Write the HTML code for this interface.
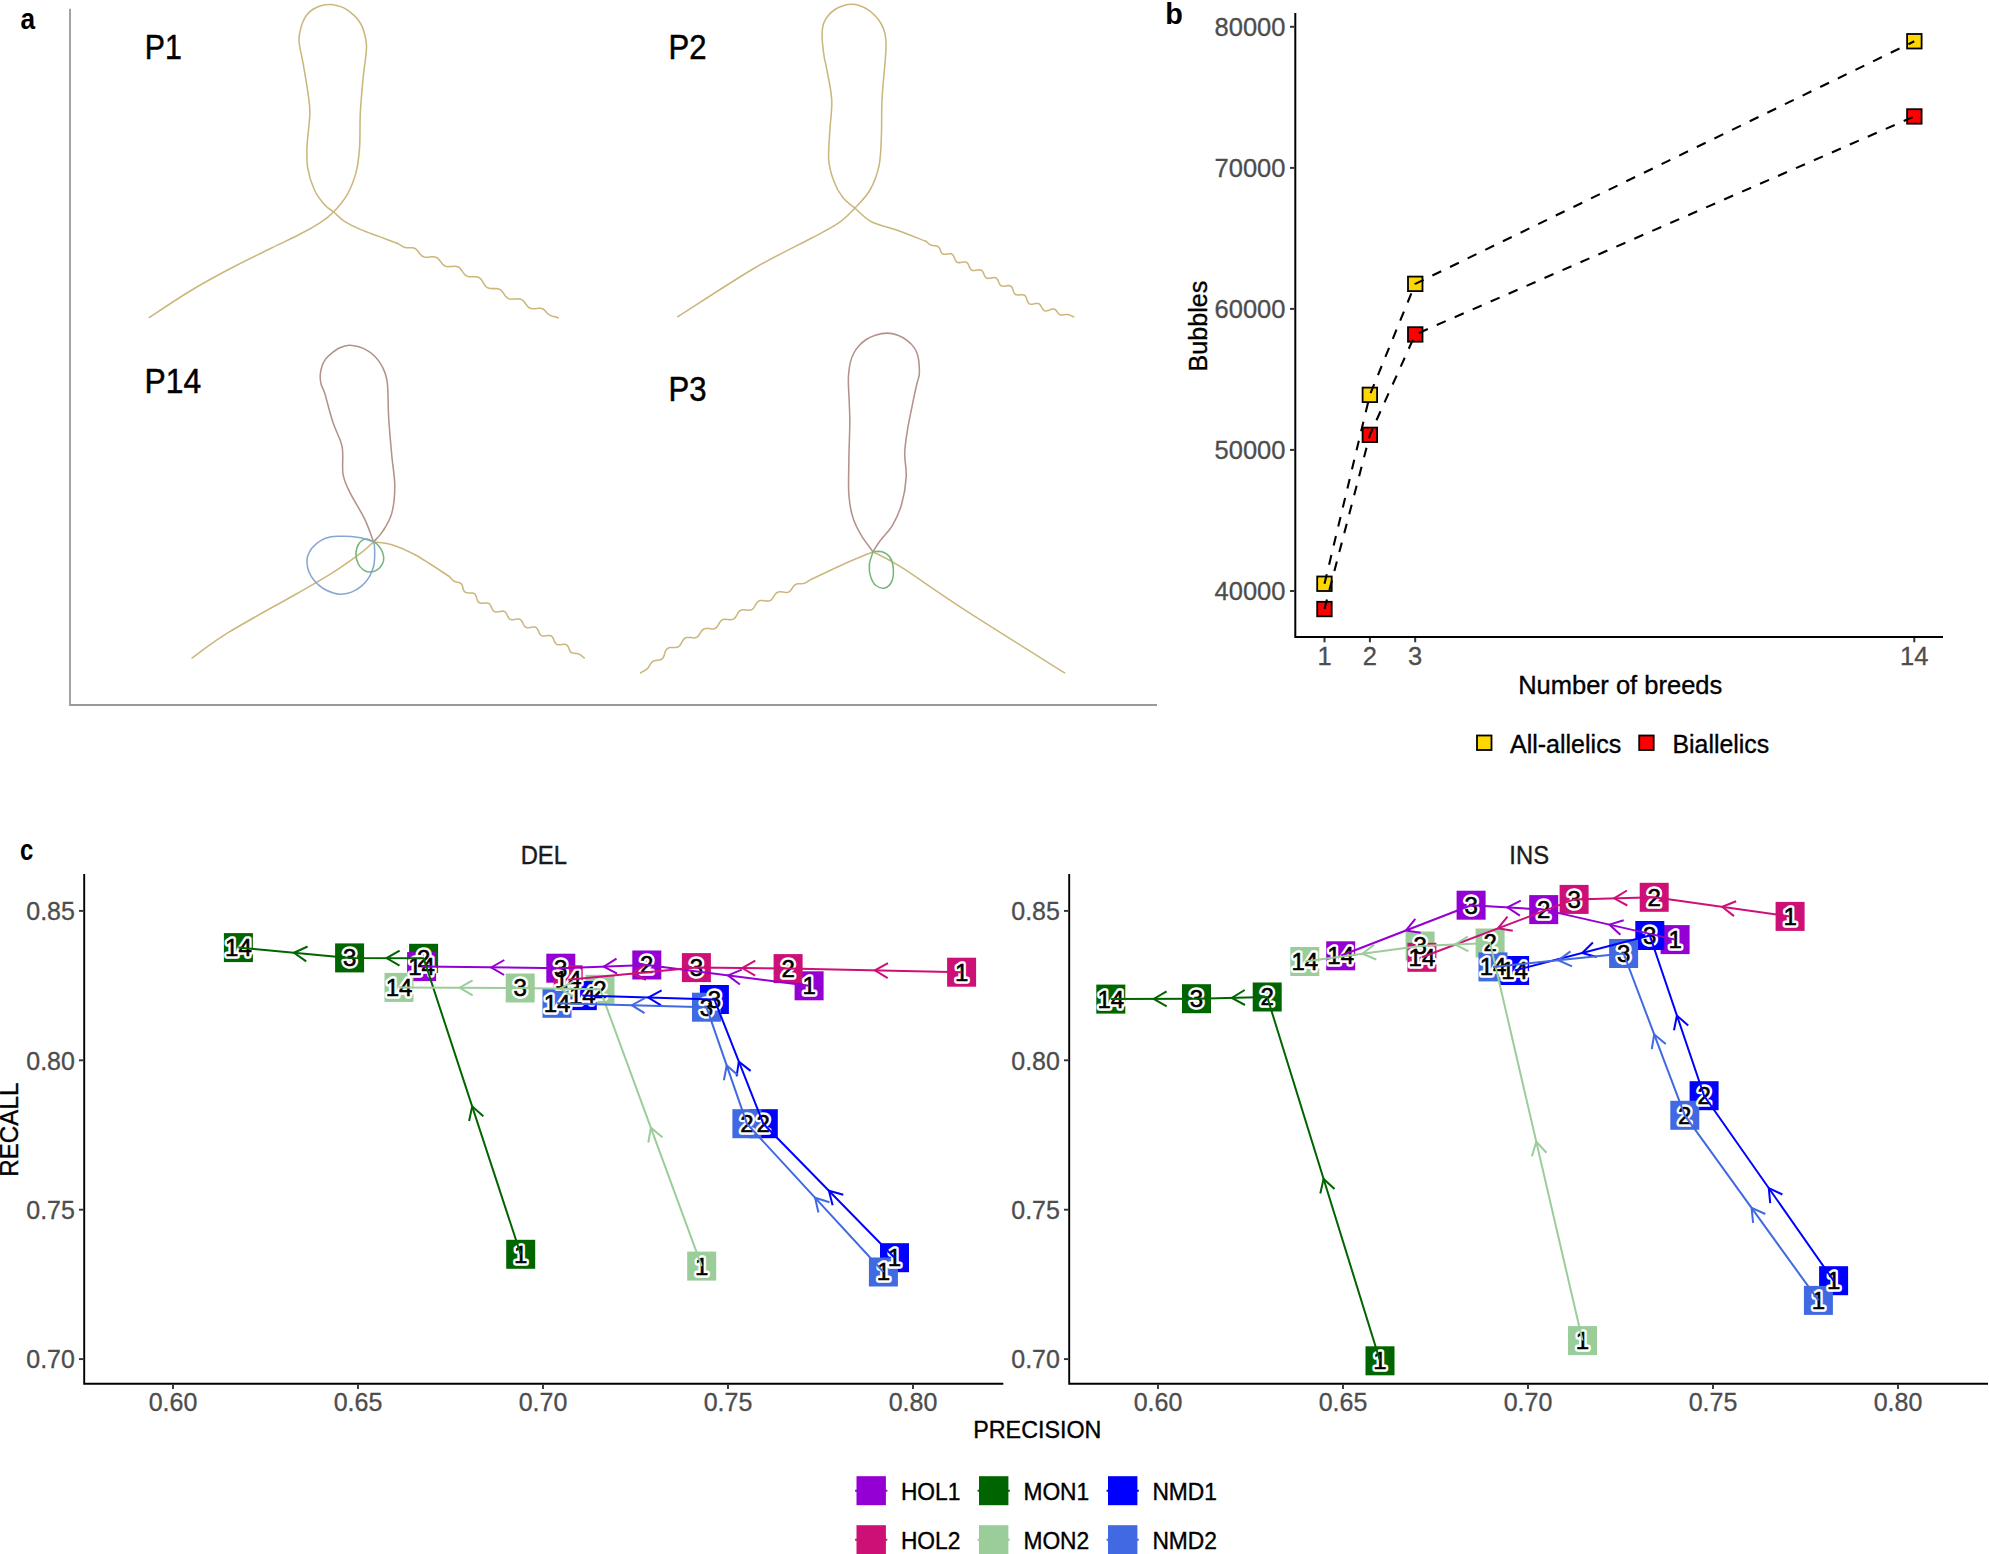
<!DOCTYPE html>
<html lang="en"><head><meta charset="utf-8"><title>Figure</title>
<style>html,body{margin:0;padding:0;background:#fff}svg{display:block}text{font-family:"Liberation Sans", "DejaVu Sans", sans-serif}</style></head><body>
<svg width="1989" height="1554" viewBox="0 0 1989 1554">
<rect width="1989" height="1554" fill="#fff"/>
<g id="panel-a" fill="none" stroke-width="1.55" stroke-linecap="round" stroke-linejoin="round">
<path d="M70 8.7V705H1157" stroke="#999" stroke-width="1.8" stroke-linecap="butt" stroke-linejoin="miter"/>
<path d="M149.3 317.4C156.4 312.8 178 298.3 191.8 290C205.6 281.7 218.5 274.8 231.9 267.8C245.3 260.8 260.5 253.5 272 247.8C283.5 242.1 292.6 238.1 300.7 233.8C308.8 229.6 315.2 225.9 320.7 222.3C326.2 218.7 329.2 216.6 333.6 212C338 207.4 343.4 201.3 347.2 194.6C351 187.9 354.1 179.8 356.2 171.9C358.3 164 358.9 156.9 359.6 147.1C360.3 137.3 359.7 124.4 360.3 113.1C360.9 101.8 362.1 89 363 79.2C363.9 69.4 365.4 60 366 54.3C366.6 48.6 366.6 48.2 366.5 45.2C366.4 42.2 365.8 39.2 365.1 36.2C364.4 33.2 363.6 29.9 362.4 27.1C361.2 24.3 359.6 21.8 357.9 19.5C356.2 17.2 354.3 15.5 352 13.6C349.7 11.7 346.7 9.4 344.3 8.1C341.9 6.8 339.9 6.3 337.5 5.7C335.1 5.1 332.6 4.5 329.8 4.5C327 4.5 323.7 4.9 320.8 5.7C317.9 6.5 315 8 312.6 9.5C310.2 11 308.2 13.1 306.7 14.9C305.2 16.7 304.5 18.4 303.6 20.4C302.7 22.4 301.9 23.7 301.1 27.1C300.3 30.5 298.7 34.7 299 40.7C299.3 46.7 301.7 55 303.1 63.3C304.5 71.6 306.5 82.2 307.6 90.5C308.7 98.8 310 104 309.9 113.1C309.8 122.1 307.5 135.8 307.1 144.8C306.7 153.9 306.4 159.9 307.6 167.4C308.8 174.9 311.6 183.8 314.4 190C317.2 196.2 321.4 201.1 324.6 204.8C327.8 208.5 330.2 209.2 333.6 212C337 214.8 340.4 218.8 344.9 221.7C349.4 224.6 355.1 227.1 360.8 229.6C366.5 232.1 372.9 234.1 378.9 236.4C384.9 238.7 394 242.1 397 243.2" stroke="#CBB77C"/>
<path d="M397 243.2L397.6 243.5L398.2 243.8L398.8 244.1L399.4 244.5L400.1 244.9L400.8 245.4L401.6 245.8L402.4 246.3L403.2 246.7L404.1 247.1L405.1 247.4L406.1 247.7L407.2 247.8L408.4 247.8L409.6 247.8L410.9 247.8L412.2 247.8L413.4 247.9L414.6 248.3L415.7 248.9L416.7 249.8L417.7 250.9L418.6 252L419.5 253.3L420.5 254.4L421.5 255.5L422.6 256.3L423.9 256.9L425.2 257.2L426.7 257.3L428.2 257.2L429.8 257L431.4 256.8L433 256.8L434.5 256.9L435.9 257.2L437.1 257.9L438.3 258.8L439.3 259.9L440.3 261.2L441.2 262.4L442.2 263.7L443.2 264.7L444.3 265.6L445.5 266.2L446.8 266.6L448.2 266.7L449.6 266.6L451.1 266.5L452.6 266.4L454 266.3L455.3 266.3L456.5 266.4L457.7 266.8L458.7 267.3L459.6 268L460.4 268.8L461.2 269.7L461.9 270.7L462.5 271.6L463.2 272.6L463.8 273.4L464.5 274.2L465.1 274.9L465.9 275.5L466.6 275.9L467.4 276.3L468.3 276.5L469.1 276.7L470 276.8L470.9 276.8L471.9 276.8L472.8 276.7L473.7 276.7L474.6 276.7L475.5 276.7L476.3 276.8L477.1 276.9L477.8 277.1L478.6 277.4L479.2 277.7L479.8 278.1L480.4 278.6L480.9 279.1L481.4 279.7L481.9 280.3L482.3 281L482.7 281.7L483.1 282.4L483.5 283.1L483.9 283.8L484.3 284.4L484.7 285.1L485.2 285.7L485.6 286.2L486.1 286.7L486.7 287.2L487.3 287.6L487.9 287.9L488.6 288.1L489.3 288.3L490 288.5L490.8 288.5L491.6 288.6L492.5 288.6L493.3 288.6L494.2 288.6L495 288.6L495.9 288.6L496.7 288.6L497.5 288.7L498.3 288.9L499.1 289.1L499.8 289.5L500.5 289.9L501.1 290.4L501.7 291L502.3 291.7L502.9 292.5L503.5 293.3L504.1 294.1L504.7 295L505.3 295.9L506 296.7L506.8 297.4L507.6 298.1L508.5 298.6L509.5 298.9L510.5 299.1L511.7 299.2L512.9 299.2L514.1 299.1L515.4 299L516.7 298.9L517.9 298.8L519.1 298.9L520.3 299.1L521.4 299.6L522.4 300.2L523.3 301L524.2 301.9L525 303L525.8 304.1L526.6 305.1L527.4 306.1L528.3 307L529.3 307.8L530.3 308.3L531.5 308.6L532.7 308.8L533.9 308.8L535.2 308.7L536.5 308.5L537.8 308.4L539 308.3L540.2 308.3L541.4 308.4L542.4 308.7L543.4 309.2L544.2 309.9L545 310.7L545.8 311.5L546.5 312.3L547.2 313.1L548 313.8L548.7 314.4L549.5 314.9L550.3 315.3L551 315.7L551.8 316L552.6 316.2L553.4 316.4L554.1 316.6L554.8 316.8L555.5 317L556.1 317.1L556.7 317.3L557.3 317.5L557.8 317.7L558.3 317.9" stroke="#CBB77C"/>
<path d="M677.8 316.7C690.5 308.7 731.6 281.6 753.8 268.5C776 255.4 797.1 245.9 811.2 238.3C825.3 230.8 831 228.2 838.3 223.2C845.6 218.2 849.6 213.6 854.9 208.1C860.2 202.6 866 197 870 190C874 183 877.1 175 879 165.9C880.9 156.8 880.9 146.8 881.4 135.7C881.9 124.6 881.4 112.2 882 99.5C882.6 86.8 884.6 69.1 885.3 59.7C886 50.3 886.1 47.5 886 43C885.9 38.5 885.5 35.9 884.7 32.6C883.9 29.4 882.5 26.2 881 23.5C879.5 20.8 877.8 18.6 875.6 16.3C873.4 14 870.5 11.5 867.9 9.7C865.3 7.9 862.5 6.6 859.8 5.7C857.1 4.8 854.4 4.3 851.6 4.3C848.8 4.3 845.8 4.8 843 5.7C840.2 6.6 837.4 7.8 834.9 9.5C832.4 11.2 830 13.5 828.1 15.8C826.2 18.1 824.6 20.5 823.6 23.5C822.6 26.5 822.1 30.3 822 33.9C821.9 37.5 822.3 41.1 822.7 45.2C823.1 49.4 823.9 55.3 824.5 58.8C825.1 62.3 825 59.6 826.2 66.4C827.4 73.2 831.1 89 831.7 99.5C832.3 110 830.4 119.6 829.9 129.7C829.4 139.8 828.1 151.3 828.7 159.9C829.4 168.5 831.4 174.7 833.8 181C836.1 187.3 839.3 193.1 842.8 197.6C846.3 202.1 850.1 204.1 854.9 208.1C859.7 212.1 864.2 217.9 871.5 221.7C878.8 225.5 889.6 227.5 898.6 230.8C907.6 234.1 921.3 239.6 925.8 241.3" stroke="#CBB77C"/>
<path d="M925.8 241.3L926.1 241.5L926.4 241.7L926.8 241.9L927.1 242.2L927.4 242.5L927.8 242.8L928.1 243.1L928.5 243.4L928.9 243.7L929.3 244.1L929.8 244.4L930.3 244.7L930.8 244.9L931.3 245.2L931.9 245.3L932.5 245.5L933.2 245.6L933.9 245.7L934.6 245.7L935.4 245.8L936.1 245.9L936.8 246L937.5 246.3L938.1 246.6L938.7 247.1L939.1 247.7L939.6 248.4L940 249.3L940.3 250.2L940.6 251.1L941 251.9L941.5 252.7L942 253.3L942.6 253.8L943.4 254.1L944.2 254.3L945.1 254.3L946.1 254.2L947.2 254L948.2 253.9L949.2 253.8L950.2 253.7L951.1 253.8L951.9 254.1L952.5 254.6L953.1 255.2L953.6 256L954 256.9L954.4 257.9L954.8 258.8L955.2 259.8L955.6 260.7L956.2 261.4L956.8 262L957.5 262.4L958.3 262.6L959.2 262.6L960.1 262.6L961.1 262.4L962.1 262.2L963.1 262.1L964 262L964.9 262L965.8 262.1L966.6 262.4L967.2 262.9L967.8 263.6L968.3 264.4L968.7 265.3L969.2 266.4L969.6 267.4L970.1 268.3L970.6 269.2L971.2 269.8L972 270.3L972.9 270.5L973.8 270.6L974.9 270.5L976 270.3L977.2 270.1L978.3 269.9L979.3 269.8L980.3 269.9L981.2 270.2L981.9 270.7L982.6 271.4L983.1 272.3L983.6 273.4L984 274.4L984.5 275.5L985 276.5L985.6 277.3L986.4 277.8L987.2 278.2L988.1 278.4L989.2 278.3L990.3 278.2L991.4 277.9L992.5 277.7L993.6 277.6L994.6 277.6L995.5 277.7L996.3 278.1L996.9 278.7L997.5 279.4L998 280.3L998.4 281.3L998.8 282.3L999.2 283.3L999.7 284.2L1000.2 284.9L1000.8 285.5L1001.5 285.9L1002.3 286.1L1003.1 286.2L1004 286.2L1005 286.1L1005.9 285.9L1006.9 285.7L1007.8 285.6L1008.6 285.6L1009.4 285.6L1010.1 285.8L1010.8 286.1L1011.3 286.6L1011.8 287.1L1012.2 287.8L1012.5 288.5L1012.8 289.3L1013.1 290.1L1013.3 290.9L1013.6 291.7L1013.9 292.4L1014.2 293L1014.5 293.6L1015 294L1015.4 294.4L1016 294.6L1016.6 294.8L1017.2 294.9L1017.9 295L1018.6 294.9L1019.4 294.9L1020.1 294.8L1020.9 294.8L1021.6 294.8L1022.3 294.8L1022.9 294.8L1023.5 294.9L1024.1 295.1L1024.6 295.4L1025 295.7L1025.4 296.1L1025.7 296.6L1026 297.2L1026.3 297.8L1026.5 298.4L1026.7 299.1L1026.9 299.8L1027.1 300.4L1027.4 301.1L1027.6 301.7L1027.9 302.3L1028.3 302.8L1028.7 303.3L1029.1 303.6L1029.6 303.9L1030.2 304.1L1030.8 304.2L1031.4 304.2L1032.1 304.2L1032.8 304.1L1033.6 303.9L1034.3 303.8L1035 303.6L1035.7 303.5L1036.4 303.4L1037.1 303.4L1037.7 303.4L1038.3 303.5L1038.8 303.7L1039.4 304.1L1039.8 304.5L1040.3 305.1L1040.7 305.7L1041.2 306.4L1041.6 307.2L1042 307.9L1042.5 308.7L1043 309.4L1043.5 309.9L1044.1 310.4L1044.8 310.7L1045.5 310.9L1046.3 310.9L1047.1 310.8L1047.9 310.6L1048.8 310.2L1049.7 309.9L1050.6 309.5L1051.4 309.2L1052.3 309L1053.1 308.9L1053.8 309L1054.5 309.2L1055.2 309.6L1055.8 310.1L1056.3 310.7L1056.9 311.4L1057.4 312.2L1058 312.9L1058.5 313.6L1059.1 314.1L1059.7 314.5L1060.3 314.8L1061 315L1061.7 315.1L1062.4 315L1063.1 314.9L1063.8 314.8L1064.5 314.7L1065.2 314.6L1065.8 314.5L1066.5 314.4L1067.1 314.4L1067.7 314.5L1068.2 314.6L1068.7 314.7L1069.3 314.9L1069.7 315L1070.2 315.2L1070.6 315.4L1071.1 315.7L1071.5 315.9L1071.9 316L1072.3 316.2L1072.6 316.4L1073 316.5L1073.3 316.6L1073.6 316.7" stroke="#CBB77C"/>
<path d="M192.1 657.9C198.2 653.6 211.7 642.8 228.9 632.2C246.1 621.6 278.2 604.3 295.3 594.5C312.4 584.7 320.4 580.4 331.5 573.4C342.6 566.4 354.7 557.5 361.7 552.3C368.7 547 371.6 543.6 373.6 541.9" stroke="#CBB77C"/>
<path d="M373.6 541.9C376.6 542.4 384.7 542.5 391.8 544.7C398.9 546.9 406.4 550 416 555.3C425.6 560.6 443.6 572.9 449.1 576.4" stroke="#CBB77C"/>
<path d="M449.1 576.4L449.4 576.6L449.7 576.9L450 577.2L450.3 577.5L450.6 577.8L450.9 578.2L451.2 578.6L451.6 579L452 579.4L452.3 579.8L452.8 580.2L453.2 580.6L453.7 581L454.3 581.3L454.9 581.6L455.5 581.8L456.3 582L457 582.2L457.8 582.3L458.6 582.5L459.3 582.7L460 583L460.7 583.4L461.3 583.9L461.8 584.5L462.2 585.2L462.5 586.1L462.7 587.1L462.9 588.1L463.2 589L463.5 589.9L463.9 590.8L464.4 591.4L465 592L465.7 592.4L466.6 592.7L467.5 592.8L468.5 592.9L469.5 592.9L470.5 592.9L471.6 592.9L472.5 593L473.4 593.2L474.1 593.6L474.8 594L475.3 594.6L475.7 595.3L476.1 596.2L476.4 597L476.6 598L476.9 598.9L477.2 599.8L477.5 600.6L477.9 601.3L478.3 601.9L478.9 602.4L479.4 602.8L480.1 603.1L480.8 603.2L481.5 603.3L482.3 603.3L483.1 603.3L483.8 603.2L484.6 603.1L485.4 603L486.1 603L486.8 603L487.5 603.1L488.1 603.2L488.6 603.4L489.1 603.7L489.6 604.1L490 604.6L490.3 605.1L490.7 605.7L491 606.3L491.3 606.9L491.6 607.6L491.9 608.3L492.2 608.9L492.5 609.5L492.9 610.1L493.2 610.6L493.7 611L494.1 611.4L494.6 611.6L495.1 611.8L495.7 612L496.3 612L496.9 612L497.6 611.9L498.3 611.8L498.9 611.7L499.6 611.5L500.3 611.4L501 611.3L501.6 611.2L502.3 611.1L502.9 611.1L503.4 611.2L504 611.3L504.5 611.6L505 611.9L505.4 612.3L505.8 612.7L506.1 613.2L506.5 613.8L506.8 614.4L507.1 615L507.4 615.6L507.7 616.2L508.1 616.8L508.4 617.4L508.7 618L509.1 618.4L509.5 618.8L510 619.2L510.5 619.4L511 619.6L511.6 619.7L512.2 619.8L512.9 619.7L513.5 619.7L514.2 619.6L514.9 619.4L515.6 619.3L516.3 619.2L516.9 619.1L517.6 619L518.2 619L518.8 619L519.3 619.1L519.8 619.3L520.3 619.5L520.7 619.9L521.1 620.2L521.5 620.7L521.9 621.2L522.2 621.7L522.5 622.3L522.8 622.9L523.1 623.5L523.3 624.1L523.6 624.7L523.9 625.2L524.3 625.8L524.6 626.2L525 626.7L525.4 627L525.9 627.3L526.4 627.5L526.9 627.7L527.5 627.7L528.1 627.7L528.7 627.7L529.4 627.6L530.1 627.5L530.8 627.4L531.5 627.2L532.2 627.1L532.9 627L533.5 627L534.2 627L534.8 627.1L535.4 627.3L535.9 627.5L536.4 627.9L536.8 628.3L537.3 628.8L537.6 629.4L538 630.1L538.3 630.8L538.6 631.5L539 632.2L539.3 633L539.7 633.7L540.1 634.3L540.5 634.8L541.1 635.3L541.6 635.6L542.3 635.9L543 636L543.9 636L544.8 635.9L545.7 635.8L546.7 635.7L547.7 635.5L548.7 635.5L549.6 635.5L550.5 635.7L551.3 636L552 636.6L552.6 637.3L553.1 638.2L553.6 639.2L554 640.3L554.5 641.3L554.9 642.3L555.5 643.2L556.2 643.9L557 644.4L557.9 644.7L558.9 644.8L560.1 644.7L561.2 644.6L562.4 644.4L563.6 644.3L564.7 644.3L565.6 644.5L566.5 644.9L567.2 645.5L567.9 646.2L568.4 647.2L568.8 648.2L569.2 649.3L569.7 650.3L570.1 651.2L570.7 652L571.4 652.5L572.2 652.9L573 653.1L573.9 653.2L574.8 653.3L575.7 653.4L576.5 653.4L577.3 653.5L578.1 653.7L578.8 653.9L579.4 654.2L580 654.6L580.5 654.9L581 655.3L581.5 655.7L582 656.1L582.4 656.5L582.8 656.8L583.2 657.2L583.6 657.4L583.9 657.7L584.3 657.9" stroke="#CBB77C"/>
<path d="M373.6 541.9C372.1 538.1 368.7 527.4 364.7 519.1C360.7 510.8 353.2 499.4 349.6 491.9C346 484.3 344.2 481.3 343 473.8C341.8 466.3 343.8 455.2 342.1 446.7C340.4 438.2 335.9 431.4 333 422.6C330.1 413.8 326.8 400.1 324.9 393.8C322.9 387.5 322.1 387.8 321.3 384.8C320.5 381.8 320.1 378.7 320.2 375.7C320.3 372.7 320.9 369.4 321.8 366.7C322.7 364 323.8 361.7 325.4 359.4C327 357.1 329.3 355.1 331.7 353.1C334.1 351.2 336.9 349 339.9 347.7C342.8 346.4 346.2 345.3 349.4 345.2C352.6 345.1 355.8 345.9 358.9 346.8C362 347.7 365.2 349.2 367.9 350.8C370.6 352.4 373 354.4 375.2 356.7C377.4 359 379.4 361.8 381 364.4C382.6 367 383.7 369.5 384.7 372.1C385.7 374.7 386.4 377.3 386.9 380.2C387.4 383.1 387.5 382.8 387.8 389.3C388.1 395.9 388.1 408.4 388.8 419.5C389.5 430.6 390.8 444.6 391.8 455.7C392.8 466.8 394.8 476.3 394.8 485.9C394.8 495.5 393.8 505.6 391.8 513.1C389.8 520.7 385.8 526.4 382.8 531.2C379.8 536 375.1 540.1 373.6 541.9" stroke="#B3928A"/>
<path d="M373.6 541.9C372.4 541.4 368.8 538.9 366.4 539.1C364 539.3 360.9 540.8 359.2 543.2C357.4 545.6 356.1 550.1 355.9 553.5C355.7 556.9 357 561.1 358.2 563.8C359.4 566.5 361.4 568.5 363.3 569.9C365.2 571.3 367.2 572 369.5 572C371.8 572 375.1 571.3 377.2 569.9C379.3 568.5 381.3 565.9 382.4 563.8C383.5 561.7 383.9 559.4 383.7 557.1C383.5 554.8 382.5 552 381.4 549.9C380.3 547.8 378.5 545.5 377.2 544.2C375.9 542.9 374.2 542.3 373.6 541.9" stroke="#74B77A"/>
<path d="M373.6 541.9C371.6 541.2 365.5 538.9 361.8 538C358.1 537.1 354.9 536.7 351.5 536.4C348.1 536.1 344.6 536.2 341.2 536.2C337.8 536.2 334.3 536 330.9 536.7C327.5 537.4 323.8 538.7 320.6 540.6C317.4 542.5 314 545.7 311.8 548.3C309.6 550.9 308.5 553.6 307.7 556C306.9 558.4 306.8 560.1 307 562.7C307.2 565.3 307.6 568.5 308.8 571.5C310 574.5 312 578 314.4 580.8C316.8 583.6 320 586.5 323.2 588.5C326.4 590.5 330.5 592.1 333.5 593.1C336.5 594.1 338.2 594.4 341.2 594.2C344.2 594 348.1 593.5 351.5 592.1C354.9 590.7 358.8 588.5 361.8 585.9C364.8 583.3 367.5 579.9 369.5 576.6C371.5 573.3 372.7 569.7 373.6 566.3C374.5 562.9 374.6 559.4 374.7 556C374.8 552.6 374.6 548.1 374.4 545.7C374.2 543.4 373.7 542.5 373.6 541.9" stroke="#88A6CF"/>
<path d="M640.7 672.9L640.8 672.8L641 672.7L641.1 672.6L641.2 672.5L641.4 672.4L641.5 672.3L641.7 672.2L641.9 672.1L642.1 672L642.2 671.9L642.4 671.8L642.6 671.6L642.8 671.5L643.1 671.4L643.3 671.3L643.5 671.2L643.7 671L644 670.9L644.2 670.8L644.4 670.7L644.7 670.5L644.9 670.4L645.2 670.2L645.4 670.1L645.7 669.9L645.9 669.8L646.2 669.6L646.4 669.4L646.7 669.2L646.9 669L647.2 668.8L647.4 668.6L647.6 668.3L647.9 668.1L648.1 667.8L648.3 667.5L648.5 667.2L648.7 667L648.9 666.6L649.1 666.3L649.3 666L649.5 665.7L649.7 665.4L649.9 665L650.1 664.7L650.3 664.4L650.5 664L650.7 663.7L650.9 663.4L651.1 663.1L651.4 662.8L651.6 662.5L651.9 662.2L652.2 662L652.4 661.7L652.7 661.5L653.1 661.3L653.4 661.2L653.8 661L654.1 660.9L654.5 660.8L654.9 660.7L655.3 660.6L655.7 660.5L656.1 660.5L656.6 660.4L657 660.4L657.5 660.3L657.9 660.3L658.3 660.2L658.8 660.1L659.2 660L659.6 659.9L660 659.8L660.4 659.7L660.8 659.5L661.1 659.4L661.5 659.2L661.8 659L662.1 658.7L662.4 658.5L662.7 658.2L662.9 657.9L663.2 657.6L663.4 657.2L663.6 656.8L663.8 656.4L663.9 656L664.1 655.6L664.2 655.1L664.4 654.6L664.5 654.2L664.7 653.7L664.8 653.2L664.9 652.6L665.1 652.1L665.3 651.6L665.5 651.2L665.7 650.7L666 650.2L666.2 649.8L666.5 649.4L666.9 649L667.3 648.7L667.7 648.4L668.1 648.1L668.6 647.9L669.2 647.7L669.7 647.6L670.3 647.5L670.9 647.4L671.6 647.4L672.3 647.4L672.9 647.4L673.6 647.4L674.3 647.4L675 647.4L675.7 647.4L676.4 647.3L677 647.2L677.6 647L678.2 646.8L678.8 646.4L679.3 646L679.8 645.5L680.2 644.9L680.7 644.3L681.1 643.6L681.5 642.8L681.9 642L682.4 641.2L682.8 640.5L683.3 639.7L683.9 639.1L684.5 638.5L685.1 638.1L685.8 637.7L686.6 637.5L687.5 637.4L688.4 637.4L689.3 637.4L690.3 637.5L691.3 637.6L692.3 637.8L693.3 637.9L694.3 637.9L695.2 637.8L696 637.5L696.8 637.2L697.5 636.7L698.2 636.1L698.8 635.3L699.4 634.5L699.9 633.6L700.5 632.7L701 631.8L701.6 631L702.2 630.2L702.9 629.6L703.6 629.1L704.4 628.7L705.3 628.5L706.2 628.4L707.2 628.4L708.2 628.5L709.3 628.6L710.3 628.8L711.3 628.9L712.3 629L713.3 628.9L714.2 628.7L715 628.5L715.7 628L716.4 627.5L717 626.8L717.6 626L718.1 625.2L718.6 624.4L719.1 623.5L719.6 622.7L720.1 621.9L720.6 621.2L721.2 620.6L721.9 620.1L722.6 619.7L723.4 619.5L724.2 619.3L725.1 619.3L726 619.3L726.9 619.4L727.9 619.5L728.8 619.6L729.8 619.7L730.7 619.7L731.5 619.6L732.4 619.5L733.1 619.2L733.8 618.8L734.5 618.4L735 617.8L735.6 617.1L736.1 616.3L736.5 615.5L737 614.7L737.5 613.8L737.9 613L738.4 612.3L739 611.6L739.6 611L740.2 610.6L740.9 610.2L741.7 610L742.5 609.8L743.4 609.8L744.3 609.8L745.3 609.9L746.2 610L747.2 610.1L748.1 610.2L749 610.2L749.9 610.1L750.7 610L751.5 609.7L752.2 609.3L752.8 608.8L753.4 608.2L754 607.5L754.5 606.7L755 605.8L755.4 605L755.9 604.1L756.5 603.3L757 602.6L757.6 601.9L758.3 601.4L759 601L759.8 600.7L760.7 600.6L761.6 600.5L762.5 600.5L763.5 600.7L764.6 600.8L765.6 601L766.7 601.1L767.7 601.1L768.7 601L769.6 600.8L770.5 600.4L771.3 599.8L772 599L772.7 598.2L773.3 597.2L773.9 596.2L774.6 595.2L775.2 594.2L776 593.4L776.8 592.7L777.7 592.2L778.7 591.9L779.8 591.8L780.9 591.8L782.1 592L783.3 592.1L784.6 592.3L785.7 592.4L786.9 592.4L787.9 592.3L788.9 591.9L789.7 591.4L790.5 590.6L791.2 589.8L791.9 588.8L792.5 587.8L793.1 586.8L793.8 586L794.5 585.2L795.3 584.7L796.1 584.3L797 584L797.9 583.8L798.9 583.8L799.8 583.7L800.7 583.7L801.6 583.7L802.5 583.6L803.3 583.4L804.1 583.2L804.8 583L805.5 582.7L806.2 582.4L806.8 582L807.3 581.7L807.9 581.3L808.4 581L808.9 580.7L809.4 580.4L809.9 580.1L810.4 579.8L810.8 579.6L811.2 579.4" stroke="#CBB77C"/>
<path d="M811.2 579.4C816.8 576.8 834.7 568.1 845 563.5C855.3 558.9 868.3 553.7 873 551.7" stroke="#CBB77C"/>
<path d="M873 551.7C877.8 554.3 886.9 558 901.7 567.4C916.5 576.8 934.9 590.5 962 608.1C989.1 625.7 1047.5 662.1 1064.6 672.9" stroke="#CBB77C"/>
<path d="M873 551.7C871.2 549.3 865.7 542.6 862.4 537.2C859.1 531.8 855.6 526.1 853.4 519.1C851.1 512.1 849.6 505.1 848.9 495C848.1 484.9 848.8 471.4 848.9 458.8C849 446.2 849.9 432 849.8 419.5C849.7 407 848.6 391.6 848.4 383.8C848.2 376 848.5 376.1 848.8 372.5C849.1 368.9 849.6 365.3 850.4 362.1C851.2 358.9 852.2 356.2 853.6 353.5C855 350.8 856.9 348.1 859 345.8C861.1 343.5 863.5 341.3 866.2 339.5C868.9 337.7 871.8 336.3 875.3 335.2C878.8 334.1 883.3 333.1 887.1 333.1C890.9 333.1 894.6 334 897.9 335.2C901.2 336.4 904.3 338.3 907 340.4C909.7 342.5 912.4 345 914.2 347.6C916 350.2 917 352.8 917.8 355.8C918.6 358.8 919 362.5 919.2 365.7C919.4 368.9 919.6 371.8 919.2 374.8C918.8 377.8 917.8 379.9 916.9 383.8C916 387.7 915.2 390.9 913.7 398.4C912.2 405.9 909.2 419.6 907.7 428.6C906.2 437.7 905 444.6 904.7 452.7C904.5 460.8 906.7 468.3 906.2 476.9C905.7 485.4 904 496 901.7 504C899.4 512 896.1 519.1 892.6 525.1C889.1 531.1 883.8 535.8 880.5 540.2C877.2 544.6 874.2 549.8 873 551.7" stroke="#B3928A"/>
<path d="M873 551.7C872.4 553.8 869.8 560.2 869.4 564.3C869 568.4 869.5 572.9 870.6 576.4C871.7 579.9 873.6 583.6 876 585.5C878.4 587.4 882.4 588.7 885.1 587.9C887.8 587.1 890.6 584.3 892 580.9C893.4 577.5 893.6 571.4 893.2 567.4C892.8 563.4 891.5 559.4 889.6 556.8C887.8 554.2 884.9 552.6 882.1 551.7C879.3 550.9 874.5 551.7 873 551.7" stroke="#74B77A"/>
</g>
<text x="144.8" y="58.8" font-size="34.5" fill="#000" stroke="#000" stroke-width="0.5" textLength="37" lengthAdjust="spacingAndGlyphs">P1</text>
<text x="668.5" y="58.8" font-size="34.5" fill="#000" stroke="#000" stroke-width="0.5" textLength="38" lengthAdjust="spacingAndGlyphs">P2</text>
<text x="144.5" y="393.3" font-size="34.5" fill="#000" stroke="#000" stroke-width="0.5" textLength="56.6" lengthAdjust="spacingAndGlyphs">P14</text>
<text x="668.5" y="400.8" font-size="34.5" fill="#000" stroke="#000" stroke-width="0.5" textLength="38" lengthAdjust="spacingAndGlyphs">P3</text>
<text transform="translate(20.4 28.9) scale(0.875 1)" font-size="30" font-weight="bold" fill="#000">a</text>
<text transform="translate(1165.2 23.7) scale(0.96 1)" font-size="30" font-weight="bold" fill="#000">b</text>
<text transform="translate(19.9 859.7) scale(0.8 1)" font-size="30" font-weight="bold" fill="#000">c</text>
<g id="panel-b">
<path d="M1295.3 13V637H1943" fill="none" stroke="#000" stroke-width="2" stroke-linejoin="miter"/>
<path d="M1294.3 591h-4.3" stroke="#333" stroke-width="2"/>
<text x="1285.5" y="600.4" font-size="25.5" fill="#4d4d4d" text-anchor="end" stroke="#4d4d4d" stroke-width="0.3">40000</text>
<path d="M1294.3 449.9h-4.3" stroke="#333" stroke-width="2"/>
<text x="1285.5" y="459.3" font-size="25.5" fill="#4d4d4d" text-anchor="end" stroke="#4d4d4d" stroke-width="0.3">50000</text>
<path d="M1294.3 308.9h-4.3" stroke="#333" stroke-width="2"/>
<text x="1285.5" y="318.3" font-size="25.5" fill="#4d4d4d" text-anchor="end" stroke="#4d4d4d" stroke-width="0.3">60000</text>
<path d="M1294.3 167.9h-4.3" stroke="#333" stroke-width="2"/>
<text x="1285.5" y="177.3" font-size="25.5" fill="#4d4d4d" text-anchor="end" stroke="#4d4d4d" stroke-width="0.3">70000</text>
<path d="M1294.3 26.8h-4.3" stroke="#333" stroke-width="2"/>
<text x="1285.5" y="36.2" font-size="25.5" fill="#4d4d4d" text-anchor="end" stroke="#4d4d4d" stroke-width="0.3">80000</text>
<path d="M1324.5 638v4.3" stroke="#333" stroke-width="2"/>
<text x="1324.5" y="665.2" font-size="25.5" fill="#4d4d4d" text-anchor="middle" stroke="#4d4d4d" stroke-width="0.3">1</text>
<path d="M1369.9 638v4.3" stroke="#333" stroke-width="2"/>
<text x="1369.9" y="665.2" font-size="25.5" fill="#4d4d4d" text-anchor="middle" stroke="#4d4d4d" stroke-width="0.3">2</text>
<path d="M1415.2 638v4.3" stroke="#333" stroke-width="2"/>
<text x="1415.2" y="665.2" font-size="25.5" fill="#4d4d4d" text-anchor="middle" stroke="#4d4d4d" stroke-width="0.3">3</text>
<path d="M1914.3 638v4.3" stroke="#333" stroke-width="2"/>
<text x="1914.3" y="665.2" font-size="25.5" fill="#4d4d4d" text-anchor="middle" stroke="#4d4d4d" stroke-width="0.3">14</text>
<text x="1620.2" y="694" font-size="25.5" fill="#000" text-anchor="middle" stroke="#000" stroke-width="0.35">Number of breeds</text>
<text transform="translate(1206.5 326.1) rotate(-90)" font-size="25.1" fill="#000" text-anchor="middle" stroke="#000" stroke-width="0.35">Bubbles</text>
<rect x="1317.2" y="576.5" width="14.5" height="14.5" fill="#FFD700" stroke="#000" stroke-width="1.8"/>
<rect x="1362.6" y="387.6" width="14.5" height="14.5" fill="#FFD700" stroke="#000" stroke-width="1.8"/>
<rect x="1408" y="276.6" width="14.5" height="14.5" fill="#FFD700" stroke="#000" stroke-width="1.8"/>
<rect x="1907.1" y="34" width="14.5" height="14.5" fill="#FFD700" stroke="#000" stroke-width="1.8"/>
<rect x="1317.2" y="601.8" width="14.5" height="14.5" fill="#FF0000" stroke="#000" stroke-width="1.8"/>
<rect x="1362.6" y="427.6" width="14.5" height="14.5" fill="#FF0000" stroke="#000" stroke-width="1.8"/>
<rect x="1408" y="327.2" width="14.5" height="14.5" fill="#FF0000" stroke="#000" stroke-width="1.8"/>
<rect x="1907.1" y="109.2" width="14.5" height="14.5" fill="#FF0000" stroke="#000" stroke-width="1.8"/>
<path d="M1324.5 583.7L1369.9 394.8L1415.2 283.9L1914.3 41.3" fill="none" stroke="#000" stroke-width="2.1" stroke-dasharray="9.8 9.8"/>
<path d="M1324.5 609L1369.9 434.8L1415.2 334.5L1914.3 116.4" fill="none" stroke="#000" stroke-width="2.1" stroke-dasharray="9.8 9.8"/>
<rect x="1477" y="735.5" width="14.5" height="14.5" fill="#FFD700" stroke="#000" stroke-width="1.8"/>
<text x="1510" y="752.5" font-size="25" fill="#000" stroke="#000" stroke-width="0.35">All-allelics</text>
<rect x="1639.2" y="735.5" width="14.5" height="14.5" fill="#FF0000" stroke="#000" stroke-width="1.8"/>
<text x="1672.5" y="752.5" font-size="24.85" fill="#000" stroke="#000" stroke-width="0.35">Biallelics</text>
</g>
<g id="panel-c">
<path d="M84.2 874V1383.8H1003.3" fill="none" stroke="#000" stroke-width="1.9"/>
<path d="M83.3 910.9h-4.3" stroke="#333" stroke-width="1.9"/>
<text transform="translate(74.9 920.1) scale(1 1.03)" font-size="25.0" fill="#4d4d4d" text-anchor="end" stroke="#4d4d4d" stroke-width="0.3">0.85</text>
<path d="M83.3 1060.3h-4.3" stroke="#333" stroke-width="1.9"/>
<text transform="translate(74.9 1069.5) scale(1 1.03)" font-size="25.0" fill="#4d4d4d" text-anchor="end" stroke="#4d4d4d" stroke-width="0.3">0.80</text>
<path d="M83.3 1209.7h-4.3" stroke="#333" stroke-width="1.9"/>
<text transform="translate(74.9 1218.9) scale(1 1.03)" font-size="25.0" fill="#4d4d4d" text-anchor="end" stroke="#4d4d4d" stroke-width="0.3">0.75</text>
<path d="M83.3 1359.1h-4.3" stroke="#333" stroke-width="1.9"/>
<text transform="translate(74.9 1368.3) scale(1 1.03)" font-size="25.0" fill="#4d4d4d" text-anchor="end" stroke="#4d4d4d" stroke-width="0.3">0.70</text>
<path d="M173 1384.7v4.3" stroke="#333" stroke-width="1.9"/>
<text transform="translate(173 1410.6) scale(1 1.03)" font-size="25.0" fill="#4d4d4d" text-anchor="middle" stroke="#4d4d4d" stroke-width="0.3">0.60</text>
<path d="M358 1384.7v4.3" stroke="#333" stroke-width="1.9"/>
<text transform="translate(358 1410.6) scale(1 1.03)" font-size="25.0" fill="#4d4d4d" text-anchor="middle" stroke="#4d4d4d" stroke-width="0.3">0.65</text>
<path d="M543 1384.7v4.3" stroke="#333" stroke-width="1.9"/>
<text transform="translate(543 1410.6) scale(1 1.03)" font-size="25.0" fill="#4d4d4d" text-anchor="middle" stroke="#4d4d4d" stroke-width="0.3">0.70</text>
<path d="M728 1384.7v4.3" stroke="#333" stroke-width="1.9"/>
<text transform="translate(728 1410.6) scale(1 1.03)" font-size="25.0" fill="#4d4d4d" text-anchor="middle" stroke="#4d4d4d" stroke-width="0.3">0.75</text>
<path d="M913 1384.7v4.3" stroke="#333" stroke-width="1.9"/>
<text transform="translate(913 1410.6) scale(1 1.03)" font-size="25.0" fill="#4d4d4d" text-anchor="middle" stroke="#4d4d4d" stroke-width="0.3">0.80</text>
<rect x="794.6" y="971.3" width="29.0" height="29.0" fill="#9400D3"/>
<rect x="947.1" y="957.7" width="29.0" height="29.0" fill="#CD1076"/>
<rect x="506.2" y="1239.8" width="29.0" height="29.0" fill="#006400"/>
<rect x="687.2" y="1251.6" width="29.0" height="29.0" fill="#9BCD9B"/>
<rect x="880" y="1243.2" width="29.0" height="29.0" fill="#0000FF"/>
<rect x="868.9" y="1257.5" width="29.0" height="29.0" fill="#4169E1"/>
<rect x="632.3" y="950.5" width="29.0" height="29.0" fill="#9400D3"/>
<rect x="773.6" y="954.1" width="29.0" height="29.0" fill="#CD1076"/>
<rect x="409.1" y="943.8" width="29.0" height="29.0" fill="#006400"/>
<rect x="585.5" y="974.8" width="29.0" height="29.0" fill="#9BCD9B"/>
<rect x="748.8" y="1109.2" width="29.0" height="29.0" fill="#0000FF"/>
<rect x="732.4" y="1109.2" width="29.0" height="29.0" fill="#4169E1"/>
<rect x="546.3" y="953.7" width="29.0" height="29.0" fill="#9400D3"/>
<rect x="681.9" y="953.1" width="29.0" height="29.0" fill="#CD1076"/>
<rect x="335.1" y="943.4" width="29.0" height="29.0" fill="#006400"/>
<rect x="505.7" y="973.5" width="29.0" height="29.0" fill="#9BCD9B"/>
<rect x="699.9" y="985" width="29.0" height="29.0" fill="#0000FF"/>
<rect x="692" y="992.7" width="29.0" height="29.0" fill="#4169E1"/>
<rect x="407.1" y="952.1" width="29.0" height="29.0" fill="#9400D3"/>
<rect x="553.7" y="965.3" width="29.0" height="29.0" fill="#CD1076"/>
<rect x="223.9" y="933.1" width="29.0" height="29.0" fill="#006400"/>
<rect x="384.5" y="972.9" width="29.0" height="29.0" fill="#9BCD9B"/>
<rect x="567.8" y="981.1" width="29.0" height="29.0" fill="#0000FF"/>
<rect x="542.5" y="988.8" width="29.0" height="29.0" fill="#4169E1"/>
<g font-size="24.0" text-anchor="middle" fill="#fff" stroke="#fff" stroke-width="5.4" stroke-linejoin="round">
<text x="809.1" y="994.2">1</text>
<text x="961.6" y="980.6">1</text>
<text x="520.7" y="1262.7">1</text>
<text x="701.7" y="1274.5">1</text>
<text x="894.5" y="1266.1">1</text>
<text x="883.4" y="1280.4">1</text>
<text x="646.8" y="973.4">2</text>
<text x="788.1" y="977">2</text>
<text x="423.6" y="966.7">2</text>
<text x="600" y="997.7">2</text>
<text x="763.3" y="1132.1">2</text>
<text x="746.9" y="1132.1">2</text>
<text x="560.8" y="976.6">3</text>
<text x="696.4" y="976">3</text>
<text x="349.6" y="966.3">3</text>
<text x="520.2" y="996.4">3</text>
<text x="714.4" y="1007.9">3</text>
<text x="706.5" y="1015.6">3</text>
<text x="421.6" y="975">14</text>
<text x="568.2" y="988.2">14</text>
<text x="238.4" y="956">14</text>
<text x="399" y="995.8">14</text>
<text x="582.3" y="1004">14</text>
<text x="557" y="1011.7">14</text>
</g>
<g font-size="24.0" text-anchor="middle" fill="#000" stroke="#000" stroke-width="0.6">
<text x="809.1" y="994.2">1</text>
<text x="961.6" y="980.6">1</text>
<text x="520.7" y="1262.7">1</text>
<text x="701.7" y="1274.5">1</text>
<text x="894.5" y="1266.1">1</text>
<text x="883.4" y="1280.4">1</text>
<text x="646.8" y="973.4">2</text>
<text x="788.1" y="977">2</text>
<text x="423.6" y="966.7">2</text>
<text x="600" y="997.7">2</text>
<text x="763.3" y="1132.1">2</text>
<text x="746.9" y="1132.1">2</text>
<text x="560.8" y="976.6">3</text>
<text x="696.4" y="976">3</text>
<text x="349.6" y="966.3">3</text>
<text x="520.2" y="996.4">3</text>
<text x="714.4" y="1007.9">3</text>
<text x="706.5" y="1015.6">3</text>
<text x="421.6" y="975">14</text>
<text x="568.2" y="988.2">14</text>
<text x="238.4" y="956">14</text>
<text x="399" y="995.8">14</text>
<text x="582.3" y="1004">14</text>
<text x="557" y="1011.7">14</text>
</g>
<path d="M809.1 985.8L646.8 965L560.8 968.2L421.6 966.6" fill="none" stroke="#9400D3" stroke-width="2" stroke-linejoin="round"/>
<path d="M739.9 984.5L728 975.4L741.8 969.6" fill="none" stroke="#9400D3" stroke-width="2" stroke-linejoin="miter" stroke-linecap="butt"/>
<path d="M617.1 973.6L603.8 966.6L616.5 958.6" fill="none" stroke="#9400D3" stroke-width="2" stroke-linejoin="miter" stroke-linecap="butt"/>
<path d="M504.1 975L491.2 967.4L504.3 960" fill="none" stroke="#9400D3" stroke-width="2" stroke-linejoin="miter" stroke-linecap="butt"/>
<path d="M961.6 972.2L788.1 968.6L696.4 967.6L568.2 979.8" fill="none" stroke="#CD1076" stroke-width="2" stroke-linejoin="round"/>
<path d="M887.7 978.2L874.9 970.4L888 963.2" fill="none" stroke="#CD1076" stroke-width="2" stroke-linejoin="miter" stroke-linecap="butt"/>
<path d="M755.2 975.7L742.2 968.1L755.3 960.7" fill="none" stroke="#CD1076" stroke-width="2" stroke-linejoin="miter" stroke-linecap="butt"/>
<path d="M645.9 979.9L632.3 973.7L644.5 965" fill="none" stroke="#CD1076" stroke-width="2" stroke-linejoin="miter" stroke-linecap="butt"/>
<path d="M520.7 1254.3L423.6 958.3L349.6 957.9L238.4 947.6" fill="none" stroke="#006400" stroke-width="2" stroke-linejoin="round"/>
<path d="M469.1 1121L472.2 1106.3L483.3 1116.3" fill="none" stroke="#006400" stroke-width="2" stroke-linejoin="miter" stroke-linecap="butt"/>
<path d="M399.5 965.7L386.6 958.1L399.6 950.7" fill="none" stroke="#006400" stroke-width="2" stroke-linejoin="miter" stroke-linecap="butt"/>
<path d="M306.2 961.4L294 952.8L307.6 946.5" fill="none" stroke="#006400" stroke-width="2" stroke-linejoin="miter" stroke-linecap="butt"/>
<path d="M701.7 1266.1L600 989.3L520.2 988L399 987.4" fill="none" stroke="#9BCD9B" stroke-width="2" stroke-linejoin="round"/>
<path d="M648.3 1142.5L650.9 1127.7L662.4 1137.3" fill="none" stroke="#9BCD9B" stroke-width="2" stroke-linejoin="miter" stroke-linecap="butt"/>
<path d="M573 996.4L560.1 988.6L573.2 981.4" fill="none" stroke="#9BCD9B" stroke-width="2" stroke-linejoin="miter" stroke-linecap="butt"/>
<path d="M472.6 995.3L459.6 987.7L472.6 980.3" fill="none" stroke="#9BCD9B" stroke-width="2" stroke-linejoin="miter" stroke-linecap="butt"/>
<path d="M894.5 1257.7L763.3 1123.7L714.4 999.5L582.3 995.6" fill="none" stroke="#0000FF" stroke-width="2" stroke-linejoin="round"/>
<path d="M832.6 1205.2L828.9 1190.7L843.3 1194.7" fill="none" stroke="#0000FF" stroke-width="2" stroke-linejoin="miter" stroke-linecap="butt"/>
<path d="M736.6 1076.4L738.8 1061.6L750.6 1070.9" fill="none" stroke="#0000FF" stroke-width="2" stroke-linejoin="miter" stroke-linecap="butt"/>
<path d="M661.1 1005.4L648.3 997.5L661.6 990.4" fill="none" stroke="#0000FF" stroke-width="2" stroke-linejoin="miter" stroke-linecap="butt"/>
<path d="M883.4 1272L746.9 1123.7L706.5 1007.2L557 1003.3" fill="none" stroke="#4169E1" stroke-width="2" stroke-linejoin="round"/>
<path d="M818.4 1212.5L815.1 1197.8L829.5 1202.3" fill="none" stroke="#4169E1" stroke-width="2" stroke-linejoin="miter" stroke-linecap="butt"/>
<path d="M723.9 1080.2L726.7 1065.5L738 1075.3" fill="none" stroke="#4169E1" stroke-width="2" stroke-linejoin="miter" stroke-linecap="butt"/>
<path d="M644.5 1013.1L631.8 1005.2L644.9 998.1" fill="none" stroke="#4169E1" stroke-width="2" stroke-linejoin="miter" stroke-linecap="butt"/>
<path d="M1069.2 874V1383.8H1988" fill="none" stroke="#000" stroke-width="1.9"/>
<path d="M1068.3 910.9h-4.3" stroke="#333" stroke-width="1.9"/>
<text transform="translate(1059.9 920.1) scale(1 1.03)" font-size="25.0" fill="#4d4d4d" text-anchor="end" stroke="#4d4d4d" stroke-width="0.3">0.85</text>
<path d="M1068.3 1060.3h-4.3" stroke="#333" stroke-width="1.9"/>
<text transform="translate(1059.9 1069.5) scale(1 1.03)" font-size="25.0" fill="#4d4d4d" text-anchor="end" stroke="#4d4d4d" stroke-width="0.3">0.80</text>
<path d="M1068.3 1209.7h-4.3" stroke="#333" stroke-width="1.9"/>
<text transform="translate(1059.9 1218.9) scale(1 1.03)" font-size="25.0" fill="#4d4d4d" text-anchor="end" stroke="#4d4d4d" stroke-width="0.3">0.75</text>
<path d="M1068.3 1359.1h-4.3" stroke="#333" stroke-width="1.9"/>
<text transform="translate(1059.9 1368.3) scale(1 1.03)" font-size="25.0" fill="#4d4d4d" text-anchor="end" stroke="#4d4d4d" stroke-width="0.3">0.70</text>
<path d="M1158 1384.7v4.3" stroke="#333" stroke-width="1.9"/>
<text transform="translate(1158 1410.6) scale(1 1.03)" font-size="25.0" fill="#4d4d4d" text-anchor="middle" stroke="#4d4d4d" stroke-width="0.3">0.60</text>
<path d="M1343 1384.7v4.3" stroke="#333" stroke-width="1.9"/>
<text transform="translate(1343 1410.6) scale(1 1.03)" font-size="25.0" fill="#4d4d4d" text-anchor="middle" stroke="#4d4d4d" stroke-width="0.3">0.65</text>
<path d="M1528 1384.7v4.3" stroke="#333" stroke-width="1.9"/>
<text transform="translate(1528 1410.6) scale(1 1.03)" font-size="25.0" fill="#4d4d4d" text-anchor="middle" stroke="#4d4d4d" stroke-width="0.3">0.70</text>
<path d="M1713 1384.7v4.3" stroke="#333" stroke-width="1.9"/>
<text transform="translate(1713 1410.6) scale(1 1.03)" font-size="25.0" fill="#4d4d4d" text-anchor="middle" stroke="#4d4d4d" stroke-width="0.3">0.75</text>
<path d="M1898 1384.7v4.3" stroke="#333" stroke-width="1.9"/>
<text transform="translate(1898 1410.6) scale(1 1.03)" font-size="25.0" fill="#4d4d4d" text-anchor="middle" stroke="#4d4d4d" stroke-width="0.3">0.80</text>
<rect x="1660.6" y="925.1" width="29.0" height="29.0" fill="#9400D3"/>
<rect x="1775.6" y="901.9" width="29.0" height="29.0" fill="#CD1076"/>
<rect x="1365.5" y="1346.3" width="29.0" height="29.0" fill="#006400"/>
<rect x="1568" y="1326.1" width="29.0" height="29.0" fill="#9BCD9B"/>
<rect x="1819.1" y="1266.2" width="29.0" height="29.0" fill="#0000FF"/>
<rect x="1803.9" y="1285.9" width="29.0" height="29.0" fill="#4169E1"/>
<rect x="1529.2" y="895.1" width="29.0" height="29.0" fill="#9400D3"/>
<rect x="1639.7" y="882.8" width="29.0" height="29.0" fill="#CD1076"/>
<rect x="1252.7" y="982.5" width="29.0" height="29.0" fill="#006400"/>
<rect x="1475.6" y="928.5" width="29.0" height="29.0" fill="#9BCD9B"/>
<rect x="1689.6" y="1081.2" width="29.0" height="29.0" fill="#0000FF"/>
<rect x="1670.3" y="1100.8" width="29.0" height="29.0" fill="#4169E1"/>
<rect x="1456.6" y="890.7" width="29.0" height="29.0" fill="#9400D3"/>
<rect x="1559.6" y="884.9" width="29.0" height="29.0" fill="#CD1076"/>
<rect x="1182" y="984.2" width="29.0" height="29.0" fill="#006400"/>
<rect x="1405.6" y="931.5" width="29.0" height="29.0" fill="#9BCD9B"/>
<rect x="1635.3" y="921" width="29.0" height="29.0" fill="#0000FF"/>
<rect x="1609.1" y="939" width="29.0" height="29.0" fill="#4169E1"/>
<rect x="1326.2" y="941.3" width="29.0" height="29.0" fill="#9400D3"/>
<rect x="1407.4" y="942.8" width="29.0" height="29.0" fill="#CD1076"/>
<rect x="1096.3" y="984.6" width="29.0" height="29.0" fill="#006400"/>
<rect x="1290.3" y="947" width="29.0" height="29.0" fill="#9BCD9B"/>
<rect x="1500.1" y="956" width="29.0" height="29.0" fill="#0000FF"/>
<rect x="1478.5" y="952.4" width="29.0" height="29.0" fill="#4169E1"/>
<g font-size="24.0" text-anchor="middle" fill="#fff" stroke="#fff" stroke-width="5.4" stroke-linejoin="round">
<text x="1675.1" y="948">1</text>
<text x="1790.1" y="924.8">1</text>
<text x="1380" y="1369.2">1</text>
<text x="1582.5" y="1349">1</text>
<text x="1833.6" y="1289.1">1</text>
<text x="1818.4" y="1308.8">1</text>
<text x="1543.7" y="918">2</text>
<text x="1654.2" y="905.7">2</text>
<text x="1267.2" y="1005.4">2</text>
<text x="1490.1" y="951.4">2</text>
<text x="1704.1" y="1104.1">2</text>
<text x="1684.8" y="1123.7">2</text>
<text x="1471.1" y="913.6">3</text>
<text x="1574.1" y="907.8">3</text>
<text x="1196.5" y="1007.1">3</text>
<text x="1420.1" y="954.4">3</text>
<text x="1649.8" y="943.9">3</text>
<text x="1623.6" y="961.9">3</text>
<text x="1340.7" y="964.2">14</text>
<text x="1421.9" y="965.7">14</text>
<text x="1110.8" y="1007.5">14</text>
<text x="1304.8" y="969.9">14</text>
<text x="1514.6" y="978.9">14</text>
<text x="1493" y="975.3">14</text>
</g>
<g font-size="24.0" text-anchor="middle" fill="#000" stroke="#000" stroke-width="0.6">
<text x="1675.1" y="948">1</text>
<text x="1790.1" y="924.8">1</text>
<text x="1380" y="1369.2">1</text>
<text x="1582.5" y="1349">1</text>
<text x="1833.6" y="1289.1">1</text>
<text x="1818.4" y="1308.8">1</text>
<text x="1543.7" y="918">2</text>
<text x="1654.2" y="905.7">2</text>
<text x="1267.2" y="1005.4">2</text>
<text x="1490.1" y="951.4">2</text>
<text x="1704.1" y="1104.1">2</text>
<text x="1684.8" y="1123.7">2</text>
<text x="1471.1" y="913.6">3</text>
<text x="1574.1" y="907.8">3</text>
<text x="1196.5" y="1007.1">3</text>
<text x="1420.1" y="954.4">3</text>
<text x="1649.8" y="943.9">3</text>
<text x="1623.6" y="961.9">3</text>
<text x="1340.7" y="964.2">14</text>
<text x="1421.9" y="965.7">14</text>
<text x="1110.8" y="1007.5">14</text>
<text x="1304.8" y="969.9">14</text>
<text x="1514.6" y="978.9">14</text>
<text x="1493" y="975.3">14</text>
</g>
<path d="M1675.1 939.6L1543.7 909.6L1471.1 905.2L1340.7 955.8" fill="none" stroke="#9400D3" stroke-width="2" stroke-linejoin="round"/>
<path d="M1620.4 934.8L1609.4 924.6L1623.7 920.2" fill="none" stroke="#9400D3" stroke-width="2" stroke-linejoin="miter" stroke-linecap="butt"/>
<path d="M1519.9 915.7L1507.4 907.4L1520.8 900.7" fill="none" stroke="#9400D3" stroke-width="2" stroke-linejoin="miter" stroke-linecap="butt"/>
<path d="M1420.7 932.8L1405.9 930.5L1415.3 918.8" fill="none" stroke="#9400D3" stroke-width="2" stroke-linejoin="miter" stroke-linecap="butt"/>
<path d="M1790.1 916.4L1654.2 897.3L1574.1 899.4L1421.9 957.3" fill="none" stroke="#CD1076" stroke-width="2" stroke-linejoin="round"/>
<path d="M1734 916.1L1722.2 906.8L1736.1 901.2" fill="none" stroke="#CD1076" stroke-width="2" stroke-linejoin="miter" stroke-linecap="butt"/>
<path d="M1627.3 905.5L1614.2 898.3L1626.9 890.5" fill="none" stroke="#CD1076" stroke-width="2" stroke-linejoin="miter" stroke-linecap="butt"/>
<path d="M1512.8 930.7L1498 928.3L1507.5 916.7" fill="none" stroke="#CD1076" stroke-width="2" stroke-linejoin="miter" stroke-linecap="butt"/>
<path d="M1380 1360.8L1267.2 997L1196.5 998.7L1110.8 999.1" fill="none" stroke="#006400" stroke-width="2" stroke-linejoin="round"/>
<path d="M1320.3 1193.5L1323.6 1178.9L1334.6 1189.1" fill="none" stroke="#006400" stroke-width="2" stroke-linejoin="miter" stroke-linecap="butt"/>
<path d="M1245 1005L1231.8 997.9L1244.7 990" fill="none" stroke="#006400" stroke-width="2" stroke-linejoin="miter" stroke-linecap="butt"/>
<path d="M1166.7 1006.3L1153.7 998.9L1166.6 991.3" fill="none" stroke="#006400" stroke-width="2" stroke-linejoin="miter" stroke-linecap="butt"/>
<path d="M1582.5 1340.6L1490.1 943L1420.1 946L1304.8 961.5" fill="none" stroke="#9BCD9B" stroke-width="2" stroke-linejoin="round"/>
<path d="M1531.9 1156.2L1536.3 1141.8L1546.5 1152.8" fill="none" stroke="#9BCD9B" stroke-width="2" stroke-linejoin="miter" stroke-linecap="butt"/>
<path d="M1468.4 951.4L1455.1 944.5L1467.8 936.5" fill="none" stroke="#9BCD9B" stroke-width="2" stroke-linejoin="miter" stroke-linecap="butt"/>
<path d="M1376.3 959.5L1362.4 953.8L1374.3 944.6" fill="none" stroke="#9BCD9B" stroke-width="2" stroke-linejoin="miter" stroke-linecap="butt"/>
<path d="M1833.6 1280.7L1704.1 1095.7L1649.8 935.5L1514.6 970.5" fill="none" stroke="#0000FF" stroke-width="2" stroke-linejoin="round"/>
<path d="M1770.2 1203.1L1768.8 1188.2L1782.4 1194.5" fill="none" stroke="#0000FF" stroke-width="2" stroke-linejoin="miter" stroke-linecap="butt"/>
<path d="M1674 1030.3L1676.9 1015.6L1688.2 1025.5" fill="none" stroke="#0000FF" stroke-width="2" stroke-linejoin="miter" stroke-linecap="butt"/>
<path d="M1596.7 957L1582.2 953L1592.9 942.5" fill="none" stroke="#0000FF" stroke-width="2" stroke-linejoin="miter" stroke-linecap="butt"/>
<path d="M1818.4 1300.4L1684.8 1115.3L1623.6 953.5L1493 966.9" fill="none" stroke="#4169E1" stroke-width="2" stroke-linejoin="round"/>
<path d="M1753.1 1222.8L1751.6 1207.8L1765.3 1214" fill="none" stroke="#4169E1" stroke-width="2" stroke-linejoin="miter" stroke-linecap="butt"/>
<path d="M1651.8 1049.2L1654.2 1034.4L1665.8 1043.9" fill="none" stroke="#4169E1" stroke-width="2" stroke-linejoin="miter" stroke-linecap="butt"/>
<path d="M1572 966.3L1558.3 960.2L1570.5 951.4" fill="none" stroke="#4169E1" stroke-width="2" stroke-linejoin="miter" stroke-linecap="butt"/>
<text transform="translate(543.8 863.7) scale(1 1.06)" font-size="23.8" fill="#1a1a1a" text-anchor="middle" stroke="#1a1a1a" stroke-width="0.35">DEL</text>
<text transform="translate(1529.2 863.7) scale(1 1.06)" font-size="23.8" fill="#1a1a1a" text-anchor="middle" stroke="#1a1a1a" stroke-width="0.35">INS</text>
<text transform="translate(1037.3 1437.7) scale(1 1.04)" font-size="23.3" fill="#000" text-anchor="middle" stroke="#000" stroke-width="0.35">PRECISION</text>
<text transform="translate(18 1129.7) rotate(-90) scale(1 1.08)" font-size="24.2" fill="#000" text-anchor="middle" stroke="#000" stroke-width="0.35">RECALL</text>
<path d="M855.1 1490.7h32.2" stroke="#9400D3" stroke-width="2"/>
<rect x="856.5" y="1476.2" width="29.4" height="29" fill="#9400D3"/>
<text transform="translate(900.9 1499.7) scale(1 1.04)" font-size="22.8" fill="#000" stroke="#000" stroke-width="0.35">HOL1</text>
<path d="M855.1 1539.7h32.2" stroke="#CD1076" stroke-width="2"/>
<rect x="856.5" y="1525.2" width="29.4" height="29" fill="#CD1076"/>
<text transform="translate(900.9 1548.7) scale(1 1.04)" font-size="22.8" fill="#000" stroke="#000" stroke-width="0.35">HOL2</text>
<path d="M977.6 1490.7h32.2" stroke="#006400" stroke-width="2"/>
<rect x="979" y="1476.2" width="29.4" height="29" fill="#006400"/>
<text transform="translate(1023.4 1499.7) scale(1 1.04)" font-size="22.8" fill="#000" stroke="#000" stroke-width="0.35">MON1</text>
<path d="M977.6 1539.7h32.2" stroke="#9BCD9B" stroke-width="2"/>
<rect x="979" y="1525.2" width="29.4" height="29" fill="#9BCD9B"/>
<text transform="translate(1023.4 1548.7) scale(1 1.04)" font-size="22.8" fill="#000" stroke="#000" stroke-width="0.35">MON2</text>
<path d="M1106.6 1490.7h32.2" stroke="#0000FF" stroke-width="2"/>
<rect x="1108" y="1476.2" width="29.4" height="29" fill="#0000FF"/>
<text transform="translate(1152.4 1499.7) scale(1 1.04)" font-size="22.8" fill="#000" stroke="#000" stroke-width="0.35">NMD1</text>
<path d="M1106.6 1539.7h32.2" stroke="#4169E1" stroke-width="2"/>
<rect x="1108" y="1525.2" width="29.4" height="29" fill="#4169E1"/>
<text transform="translate(1152.4 1548.7) scale(1 1.04)" font-size="22.8" fill="#000" stroke="#000" stroke-width="0.35">NMD2</text>
</g>
</svg></body></html>
